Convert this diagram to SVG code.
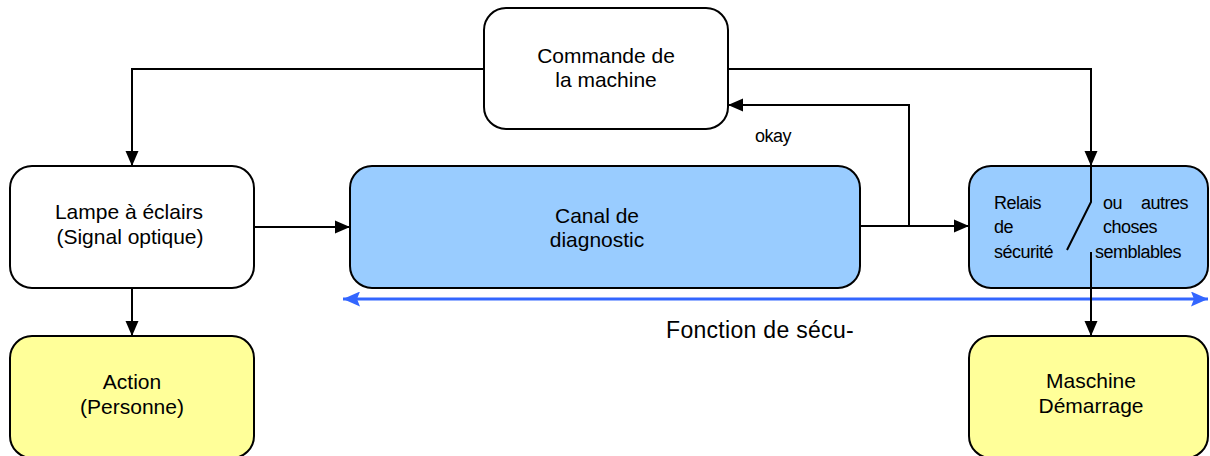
<svg xmlns="http://www.w3.org/2000/svg" width="1210" height="456" viewBox="0 0 1210 456">
<style>
.box{stroke:#000;stroke-width:2}
.w{fill:#fff}.b{fill:#99ccff}.y{fill:#ffff99}
.t{font-family:"Liberation Sans",Arial,sans-serif;font-size:21px;fill:#000;text-anchor:middle}
.s{font-family:"Liberation Sans",Arial,sans-serif;font-size:18px;letter-spacing:-0.5px;fill:#000}
.c{fill:none;stroke:#000;stroke-width:2}
</style>
<defs>
<marker id="ah" markerUnits="userSpaceOnUse" markerWidth="15" markerHeight="14" viewBox="0 0 15 14" refX="15" refY="7" orient="auto"><path d="M0,0.5 L15,7 L0,13.5 Z" fill="#000"/></marker>
<marker id="bh" markerUnits="userSpaceOnUse" markerWidth="17" markerHeight="15" viewBox="0 0 17 15" refX="17" refY="7.5" orient="auto-start-reverse"><path d="M0,0 L17,7.5 L0,15 L3,7.5 Z" fill="#3366ff"/></marker>
</defs>
<g id="connectors">
<path class="c" d="M484,69 H132 V166" marker-end="url(#ah)"/>
<path class="c" d="M728,69 H1091 V166" marker-end="url(#ah)"/>
<path class="c" d="M254,227 H350" marker-end="url(#ah)"/>
<path class="c" d="M132,288 V336" marker-end="url(#ah)"/>
<path class="c" d="M860,226 H969" marker-end="url(#ah)"/>
<path class="c" d="M909,226 V105 H728" marker-end="url(#ah)"/>
<path d="M343,299 H1208" fill="none" stroke="#3366ff" stroke-width="3" marker-start="url(#bh)" marker-end="url(#bh)"/>
</g>
<g id="commande"><rect class="box w" x="484" y="8" width="244" height="121" rx="22"/><text class="t" x="606" y="63">Commande de</text><text class="t" x="606" y="87">la machine</text></g>
<g id="lampe"><rect class="box w" x="10" y="166" width="244" height="122" rx="22"/><text class="t" x="129" y="219">Lampe à éclairs</text><text class="t" x="130" y="244">(Signal optique)</text></g>
<g id="canal"><rect class="box b" x="350" y="166" width="510" height="122" rx="22"/><text class="t" x="597" y="223">Canal de</text><text class="t" x="597" y="247">diagnostic</text></g>
<g id="relais"><rect class="box b" x="969" y="166" width="239" height="122" rx="22"/>
<text class="s" x="994" y="209">Relais</text><text class="s" x="994" y="233">de</text><text class="s" x="994" y="258">sécurité</text>
<text class="s" x="1103" y="209">ou</text><text class="s" x="1188" y="209" text-anchor="end">autres</text><text class="s" x="1103" y="233">choses</text><text class="s" x="1095" y="258">semblables</text>
<path class="c" d="M1091,166 V202 L1067,250"/>
<path class="c" d="M1091,252 V336" marker-end="url(#ah)"/>
</g>
<g id="action"><rect class="box y" x="10" y="336" width="244" height="122" rx="22"/><text class="t" x="132" y="389">Action</text><text class="t" x="132" y="414">(Personne)</text></g>
<g id="maschine"><rect class="box y" x="969" y="336" width="239" height="122" rx="22"/><text class="t" x="1091" y="388">Maschine</text><text class="t" x="1091" y="413">Démarrage</text></g>
<g id="labels"><text class="s" x="755" y="142">okay</text><text class="t" x="760" y="338" style="font-size:23px;letter-spacing:0.3px">Fonction de sécu-</text></g>
</svg>
